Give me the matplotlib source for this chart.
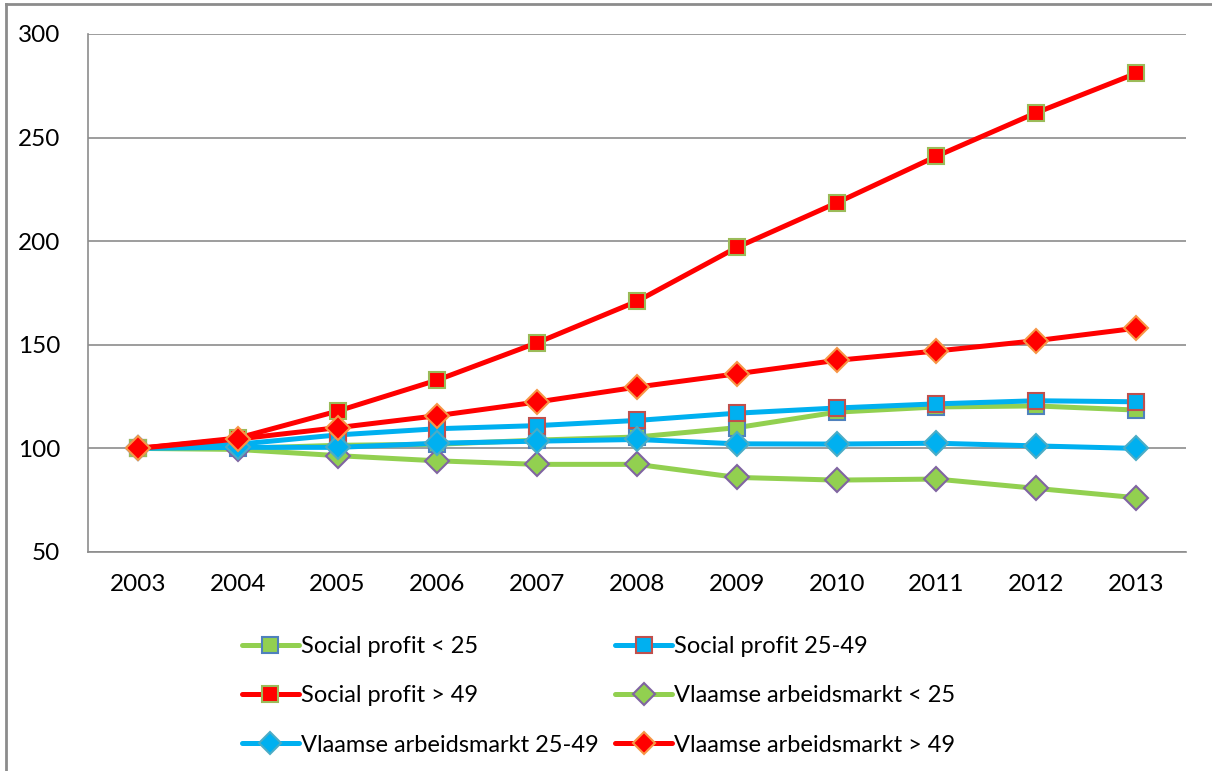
import matplotlib
matplotlib.use("Agg")
import matplotlib.pyplot as plt
from matplotlib.lines import Line2D

plt.rcParams['font.family'] = ['Lato', 'DejaVu Sans']

years = [2003, 2004, 2005, 2006, 2007, 2008, 2009, 2010, 2011, 2012, 2013]

sp_u25 = [100, 100, 101.5, 102, 104, 105.5, 110, 117.5, 120, 120.5, 118.5]
sp_25_49 = [100, 102, 106.5, 109.5, 111, 113.5, 117, 119.5, 121.5, 123, 122.5]
sp_o49 = [100, 105, 118, 133, 151, 171, 197, 218.5, 241, 262, 281]
vl_u25 = [100, 99.5, 96.5, 94, 92.3, 92.3, 86, 84.7, 85.2, 80.7, 76.2]
vl_25_49 = [100, 100.5, 100.5, 102.5, 103.5, 104.3, 102.2, 102.1, 102.5, 101.2, 100]
vl_o49 = [100, 104.5, 110, 115.8, 122.4, 129.6, 136, 142.5, 147, 152, 158]

labels = ["Social profit < 25", "Social profit 25-49", "Social profit > 49",
          "Vlaamse arbeidsmarkt < 25", "Vlaamse arbeidsmarkt 25-49", "Vlaamse arbeidsmarkt > 49"]

GREEN = "#92D050"
BLUE = "#00B0F0"
RED = "#FF0000"

# (values, line colour, marker, marker edge colour)
series = [
    (sp_u25, GREEN, "s", "#4F81BD"),
    (sp_25_49, BLUE, "s", "#C0504D"),
    (sp_o49, RED, "s", "#9BBB59"),
    (vl_u25, GREEN, "D", "#8064A2"),
    (vl_25_49, BLUE, "D", "#4BACC6"),
    (vl_o49, RED, "D", "#F79646"),
]

fig = plt.figure(figsize=(12.12, 7.71), dpi=100)
ax = fig.add_axes([88/1212, 1-552/771, (1186-88)/1212, (552-34)/771])

for (vals, col, mk, ec), lab in zip(series, labels):
    ax.plot(years, vals, color=col, lw=3.6, marker=mk, markersize=12,
            markerfacecolor=col, markeredgecolor=ec, markeredgewidth=1.5,
            solid_capstyle='round', label=lab, zorder=3)

ax.set_xlim(2002.5, 2013.5)
ax.set_ylim(50, 300)
ax.set_xticks(years)
ax.set_yticks([50, 100, 150, 200, 250, 300])
ax.grid(axis='y', color='#8c8c8c', lw=1.2)
ax.set_axisbelow(True)
for s in ['top', 'right']:
    ax.spines[s].set_visible(False)
for s in ['left', 'bottom']:
    ax.spines[s].set_color('#8c8c8c')
    ax.spines[s].set_linewidth(1.2)
ax.tick_params(length=0, labelsize=17.5)
ax.tick_params(axis='x', pad=16)
ax.tick_params(axis='y', pad=20)

# legend handles
leg_handles = []
for (vals, col, mk, ec) in series:
    leg_handles.append(Line2D([], [], color=col, lw=3.6, marker=mk, markersize=11,
                              markerfacecolor=col, markeredgecolor=ec, markeredgewidth=1.5,
                              solid_capstyle='round'))
order = [0, 2, 4, 1, 3, 5]
fig.legend([leg_handles[i] for i in order], [labels[i] for i in order],
           ncol=2, loc='upper left', bbox_to_anchor=(242/1212, 1-636/771),
           frameon=False, fontsize=17, handlelength=2.4, handletextpad=0.1,
           columnspacing=0.7, labelspacing=1.2, borderpad=0, borderaxespad=0)

# chart border (left and top only visible)
fig.add_artist(Line2D([6/1212, 6/1212], [0, 1-4/771], color='#8c8c8c', lw=2,
                      transform=fig.transFigure))
fig.add_artist(Line2D([6/1212, 1], [1-4/771, 1-4/771], color='#8c8c8c', lw=2,
                      transform=fig.transFigure))

fig.savefig("out.png", dpi=100)
